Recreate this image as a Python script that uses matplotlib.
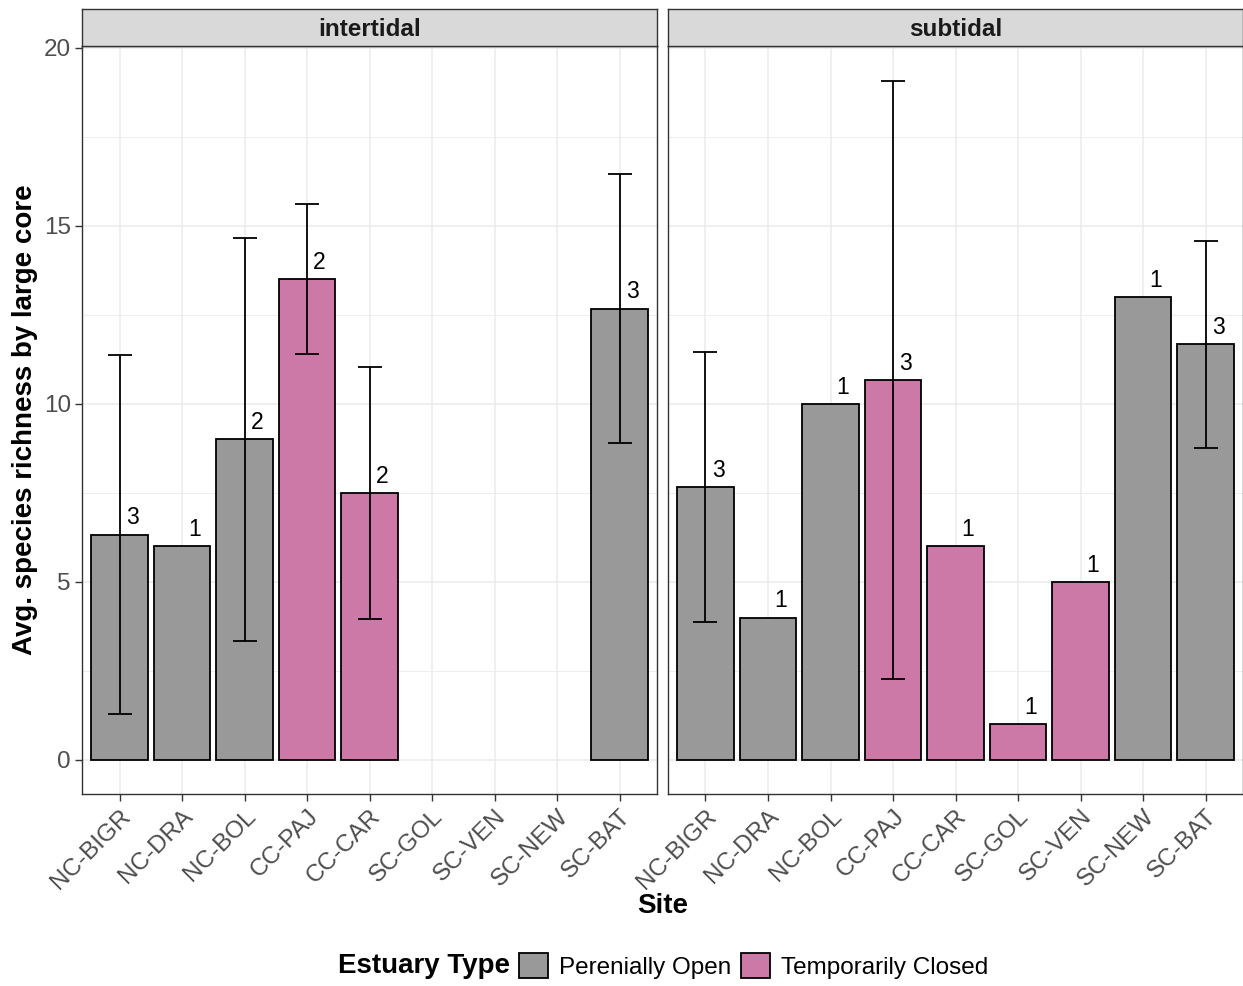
import numpy as np
import matplotlib
matplotlib.use("Agg")
import matplotlib.pyplot as plt
from matplotlib.patches import Patch

plt.rcParams['font.family'] = ['Liberation Sans', 'DejaVu Sans']

# data
sites = ["NC-BIGR", "NC-DRA", "NC-BOL", "CC-PAJ", "CC-CAR", "SC-GOL", "SC-VEN", "SC-NEW", "SC-BAT"]
est_type = ["open", "open", "open", "closed", "closed", "closed", "closed", "open", "open"]
# intertidal means / error / n (nan = no data)
inter_mean = [6.33, 6.0, 9.0, 13.5, 7.5, np.nan, np.nan, np.nan, 12.67]
inter_err = [5.03, np.nan, 5.65, 2.1, 3.53, np.nan, np.nan, np.nan, 3.78]
inter_n = [3, 1, 2, 2, 2, None, None, None, 3]
# subtidal
sub_mean = [7.67, 4.0, 10.0, 10.67, 6.0, 1.0, 5.0, 13.0, 11.67]
sub_err = [3.8, np.nan, np.nan, 8.4, np.nan, np.nan, np.nan, np.nan, 2.9]
sub_n = [3, 1, 1, 3, 1, 1, 1, 1, 3]

colors = {"open": "#999999", "closed": "#CC79A7"}
labels = {"open": "Perenially Open", "closed": "Temporarily Closed"}

W, H = 1243, 986
fig = plt.figure(figsize=(W / 100, H / 100), dpi=100)

panels = [("intertidal", inter_mean, inter_err, inter_n, 82),
          ("subtidal", sub_mean, sub_err, sub_n, 668)]
pb, pt = 794, 46
for title, mean, err, n, x0 in panels:
    ax = fig.add_axes([x0 / W, 1 - pb / H, 575 / W, (pb - pt) / H])
    x = np.arange(1, len(sites) + 1)
    mean = np.array(mean, dtype=float)
    err = np.array(err, dtype=float)
    ok = ~np.isnan(mean)
    ax.bar(x[ok], mean[ok], width=0.9,
           color=[colors[t] for t, o in zip(est_type, ok) if o],
           edgecolor="black", linewidth=1.3, zorder=2)
    eok = ~np.isnan(err)
    ax.errorbar(x[eok], mean[eok], yerr=err[eok], fmt="none", ecolor="black",
                elinewidth=1.3, capsize=8.6, capthick=1.3, zorder=3)
    for xi, m, c in zip(x, mean, n):
        if c is not None:
            ax.text(xi + 0.2, m + 0.15, str(c), fontsize=16.5, color="black",
                    ha="center", va="bottom", zorder=4)
    ax.set_xlim(0.4, 9.6)
    ax.set_ylim(-0.955, 20.05)
    ax.set_xticks(x)
    ax.set_xticklabels(sites, rotation=45, ha="right", rotation_mode="anchor",
                       fontsize=17, color="#4D4D4D")
    ax.set_yticks([0, 5, 10, 15, 20])
    ax.set_yticks([2.5, 7.5, 12.5, 17.5], minor=True)
    ax.tick_params(axis="both", which="major", length=5, color="#333333",
                   width=1, labelsize=17.5, labelcolor="#4D4D4D", pad=3)
    ax.tick_params(axis="y", which="minor", length=0)
    ax.grid(which="major", color="#EBEBEB", linewidth=1.1, zorder=0)
    ax.grid(which="minor", axis="y", color="#EBEBEB", linewidth=0.6, zorder=0)
    ax.set_axisbelow(True)
    for s in ax.spines.values():
        s.set_color("#333333")
        s.set_linewidth(1)
    if x0 != 82:
        ax.tick_params(axis="y", labelleft=False, length=0)
    # strip
    sax = fig.add_axes([x0 / W, 1 - 46 / H, 575 / W, 37 / H])
    sax.set_facecolor("#D9D9D9")
    sax.set_xticks([])
    sax.set_yticks([])
    for s in sax.spines.values():
        s.set_color("#333333")
        s.set_linewidth(1)
    sax.text(0.5, 0.45, title, ha="center", va="center", fontsize=17.5,
             fontweight="bold", color="#1A1A1A", transform=sax.transAxes)

fig.text(25 / W, 1 - 420 / H, "Avg. species richness by large core", rotation=90,
         ha="center", va="center", fontsize=20, fontweight="bold")
fig.text(663 / W, 1 - 906 / H, "Site", ha="center", va="center",
         fontsize=20, fontweight="bold")

fig.text(338 / W, 1 - 966 / H, "Estuary Type", ha="left", va="center",
         fontsize=20, fontweight="bold")
handles = [Patch(facecolor=colors[k], edgecolor="black", linewidth=1.3, label=labels[k])
           for k in ["open", "closed"]]
fig.legend(handles=handles, loc="center left", bbox_to_anchor=(519 / W, 1 - 966 / H),
           ncol=2, frameon=False, fontsize=17.5, handlelength=1.2, handleheight=1.2,
           handletextpad=0.45, columnspacing=0.4, borderpad=0, borderaxespad=0)

fig.savefig("out.png", dpi=100)
